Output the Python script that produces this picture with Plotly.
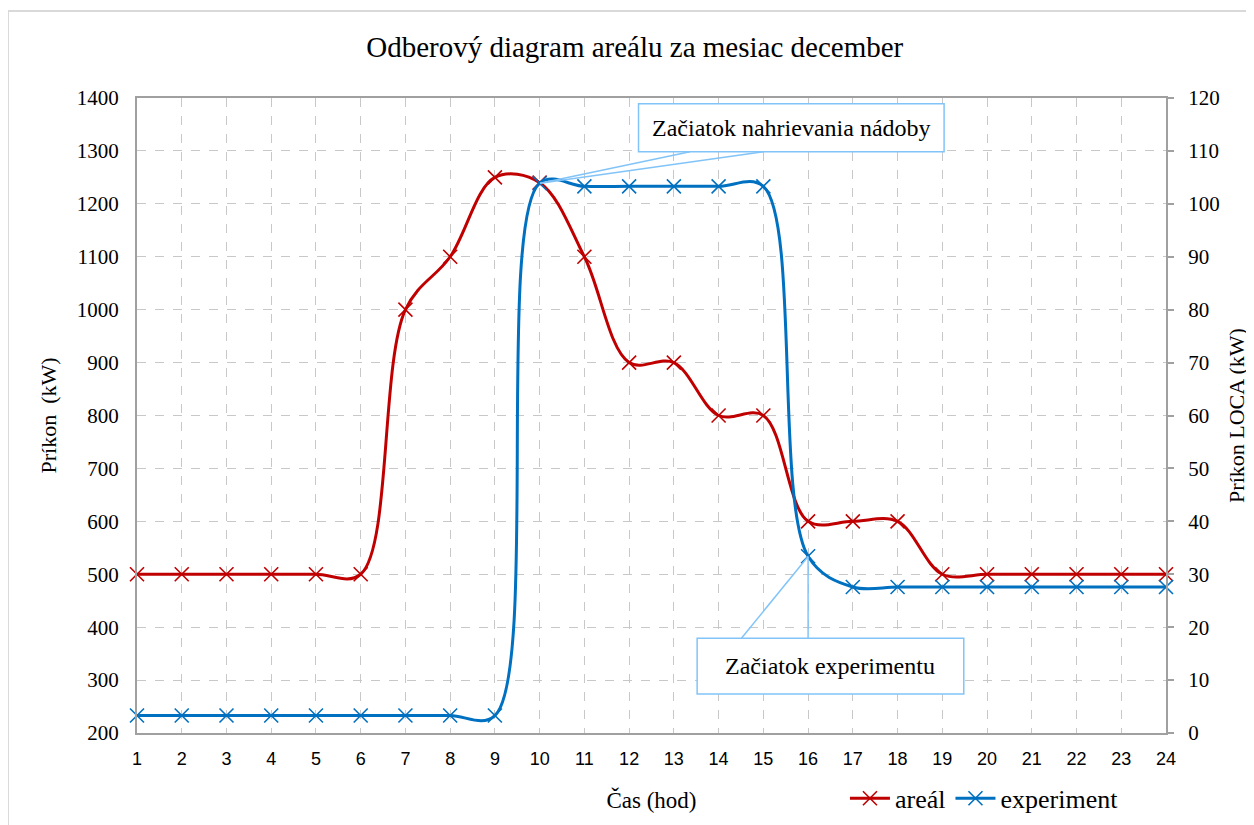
import plotly.graph_objects as go

hours = list(range(1, 25))
areal = [500, 500, 500, 500, 500, 500, 1000, 1100, 1250, 1240, 1100, 900,
         900, 800, 800, 600, 600, 600, 500, 500, 500, 500, 500, 500]
experiment = [3.3, 3.3, 3.3, 3.3, 3.3, 3.3, 3.3, 3.3, 3.3, 103.9, 103.3, 103.3,
              103.3, 103.3, 103.3, 33.4, 27.6, 27.6, 27.6, 27.6, 27.6, 27.6, 27.6, 27.6]
left_ticks = list(range(200, 1401, 100))
right_ticks = list(range(0, 121, 10))

SERIF = "Liberation Serif, Times New Roman, serif"
SANS = "Liberation Sans, Arial, sans-serif"
RED = "#c00000"
BLUE = "#0070c0"
CALLOUT = "#82c4f8"
GRID = "#c8c8c8"
AXIS = "#a0a0a0"

fig = go.Figure()
fig.add_trace(go.Scatter(
    x=hours, y=areal, name="areál", mode="lines+markers",
    line=dict(color=RED, width=3, shape="spline", smoothing=1.0),
    marker=dict(symbol="x-thin", size=14, line=dict(color=RED, width=1.6)),
    cliponaxis=False, yaxis="y"))
fig.add_trace(go.Scatter(
    x=hours, y=experiment, name="experiment", mode="lines+markers",
    line=dict(color=BLUE, width=3, shape="spline", smoothing=1.0),
    marker=dict(symbol="x-thin", size=14, line=dict(color=BLUE, width=1.6)),
    cliponaxis=False, yaxis="y2"))

shapes = []
# outer chart frame
shapes.append(dict(type="rect", xref="paper", yref="paper",
                   x0=-0.1254, x1=1.12, y0=-0.2, y1=1.137,
                   line=dict(color="#d9d9d9", width=2), layer="below"))
# callout 1
shapes.append(dict(type="line", xref="x", yref="y", x0=13.36, y0=1298.5, x1=10.01, y1=1238.8,
                   line=dict(color=CALLOUT, width=1.5)))
shapes.append(dict(type="line", xref="x", yref="y", x0=15.0, y0=1298.5, x1=10.01, y1=1238.8,
                   line=dict(color=CALLOUT, width=1.5)))
shapes.append(dict(type="rect", xref="x", yref="y", x0=12.21, x1=19.04, y0=1298.5, y1=1389.2,
                   fillcolor="white", line=dict(color=CALLOUT, width=1.5)))
# callout 2
shapes.append(dict(type="line", xref="x", yref="y", x0=14.51, y0=379, x1=16.0, y1=533.5,
                   line=dict(color=CALLOUT, width=1.5)))
shapes.append(dict(type="line", xref="x", yref="y", x0=16.0, y0=379, x1=16.0, y1=533.5,
                   line=dict(color=CALLOUT, width=1.5)))
shapes.append(dict(type="rect", xref="x", yref="y", x0=13.52, x1=19.48, y0=273.7, y1=379,
                   fillcolor="white", line=dict(color=CALLOUT, width=1.5)))

annotations = [
    dict(text="Začiatok nahrievania nádoby", xref="x", yref="y",
         x=(12.21 + 19.04) / 2, y=(1298.5 + 1389.2) / 2, showarrow=False,
         font=dict(family=SERIF, size=24, color="black")),
    dict(text="Začiatok experimentu", xref="x", yref="y",
         x=(13.52 + 19.48) / 2, y=(273.7 + 379) / 2, showarrow=False,
         font=dict(family=SERIF, size=24, color="black")),
]

fig.update_layout(
    width=1246, height=817,
    margin=dict(l=129, r=88, t=90, b=92, autoexpand=False),
    paper_bgcolor="white", plot_bgcolor="white",
    title=dict(text="Odberový diagram areálu za mesiac december",
               x=0.503, xanchor="center", y=0.952, yanchor="middle",
               font=dict(family=SERIF, size=29, color="black")),
    xaxis=dict(range=[1, 24], tickmode="array", tickvals=hours,
               ticktext=[str(h) for h in hours], automargin=False,
               showgrid=True, gridcolor=GRID, griddash="dash", gridwidth=1.3,
               showline=True, linecolor=AXIS, linewidth=2, mirror=True,
               zeroline=False, ticks="", ticklabelstandoff=8,
               tickfont=dict(family=SANS, size=18, color="black"),
               title=dict(text="Čas (hod)", standoff=24,
                          font=dict(family=SERIF, size=23, color="black"))),
    yaxis=dict(range=[200, 1400], tickmode="array", tickvals=left_ticks,
               automargin=False,
               showgrid=True, gridcolor=GRID, griddash="dash", gridwidth=1.3,
               showline=True, linecolor=AXIS, linewidth=2,
               zeroline=False, ticks="", ticklabelstandoff=12,
               tickfont=dict(family=SERIF, size=21, color="black"),
               title=dict(text="Príkon  (kW)", standoff=14,
                          font=dict(family=SERIF, size=22, color="black"))),
    yaxis2=dict(range=[0, 120], tickmode="array", tickvals=right_ticks,
                overlaying="y", side="right", showgrid=False, automargin=False,
                showline=True, linecolor=AXIS, linewidth=2,
                zeroline=False, ticks="outside", ticklen=6, tickcolor=AXIS, tickwidth=1.5,
                ticklabelstandoff=10,
                tickfont=dict(family=SERIF, size=21, color="black"),
                title=dict(text="Príkon LOCA (kW)", standoff=10,
                           font=dict(family=SERIF, size=22, color="black"))),
    legend=dict(orientation="h", x=0.688, xanchor="left", y=-0.103, yanchor="middle",
                font=dict(family=SERIF, size=26, color="black"),
                bgcolor="rgba(0,0,0,0)", itemwidth=40),
    shapes=shapes,
    annotations=annotations,
)

fig.write_html("out.html")
